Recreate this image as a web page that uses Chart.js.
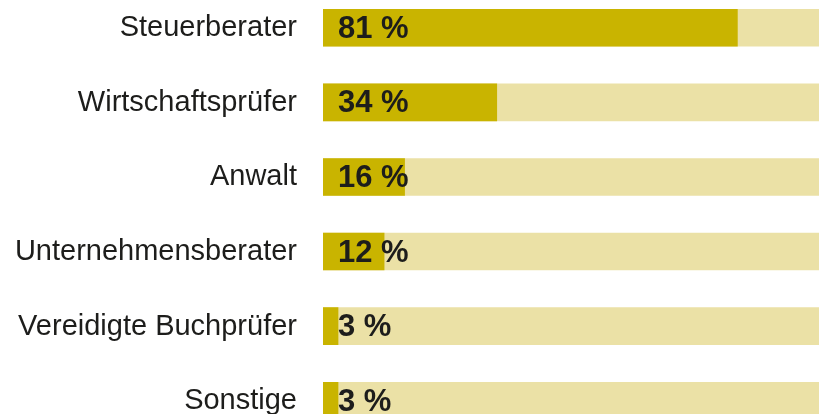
<!DOCTYPE html>
<html>
<head>
<meta charset="utf-8">
<script src="https://cdn.jsdelivr.net/npm/chart.js@4"></script>
<style>
  html, body { margin: 0; padding: 0; background: #ffffff; }
  body { width: 819px; height: 414px; overflow: hidden; position: relative; }
  #wrap { position: absolute; left: 0; top: -20px; width: 835px; height: 458px; }
</style>
</head>
<body>
<div id="wrap"><canvas id="c" width="835" height="458"></canvas></div>
<script>
const categories = ["Steuerberater", "Wirtschaftsprüfer", "Anwalt", "Unternehmensberater", "Vereidigte Buchprüfer", "Sonstige"];
const shares = [81, 34, 16, 12, 3, 3];
const fullScale = [100, 100, 100, 100, 100, 100];

const valueLabels = {
  id: 'valueLabels',
  afterDatasetsDraw(chart) {
    const ctx = chart.ctx;
    const xs = chart.scales.x;
    const ys = chart.scales.y;
    ctx.save();
    ctx.font = 'bold 31px "Liberation Sans", Arial, Helvetica, sans-serif';
    ctx.fillStyle = '#1d1d1b';
    ctx.textAlign = 'left';
    ctx.textBaseline = 'middle';
    shares.forEach((v, i) => {
      const x = xs.getPixelForValue(0) + 15;
      const y = ys.getPixelForValue(i) + 1.5;
      ctx.fillText(v + ' %', x, y);
    });
    ctx.restore();
  }
};

new Chart(document.getElementById('c'), {
  type: 'bar',
  data: {
    labels: categories,
    datasets: [
      {
        data: shares,
        backgroundColor: '#c9b400',
        borderWidth: 0,
        order: 1,
        grouped: false,
        barPercentage: 0.503,
        categoryPercentage: 1
      },
      {
        data: fullScale,
        backgroundColor: '#ebe1a6',
        borderWidth: 0,
        order: 2,
        grouped: false,
        barPercentage: 0.503,
        categoryPercentage: 1
      }
    ]
  },
  options: {
    indexAxis: 'y',
    responsive: false,
    devicePixelRatio: 1,
    animation: false,
    layout: { padding: { top: 10.5, bottom: 0, left: 0, right: 0 } },
    plugins: { legend: { display: false }, tooltip: { enabled: false } },
    scales: {
      x: { display: false, min: 0, max: 100 },
      y: {
        grid: { display: false, drawTicks: false },
        border: { display: false },
        ticks: {
          padding: 26,
          labelOffset: 0.5,
          color: '#1d1d1b',
          font: { family: '"Liberation Sans", Arial, Helvetica, sans-serif', size: 29 }
        },
        afterFit(scale) {
          scale.width = 323;
          scale.paddingTop = 0;
          scale.paddingBottom = 0;
        }
      }
    }
  },
  plugins: [valueLabels]
});
</script>
</body>
</html>
